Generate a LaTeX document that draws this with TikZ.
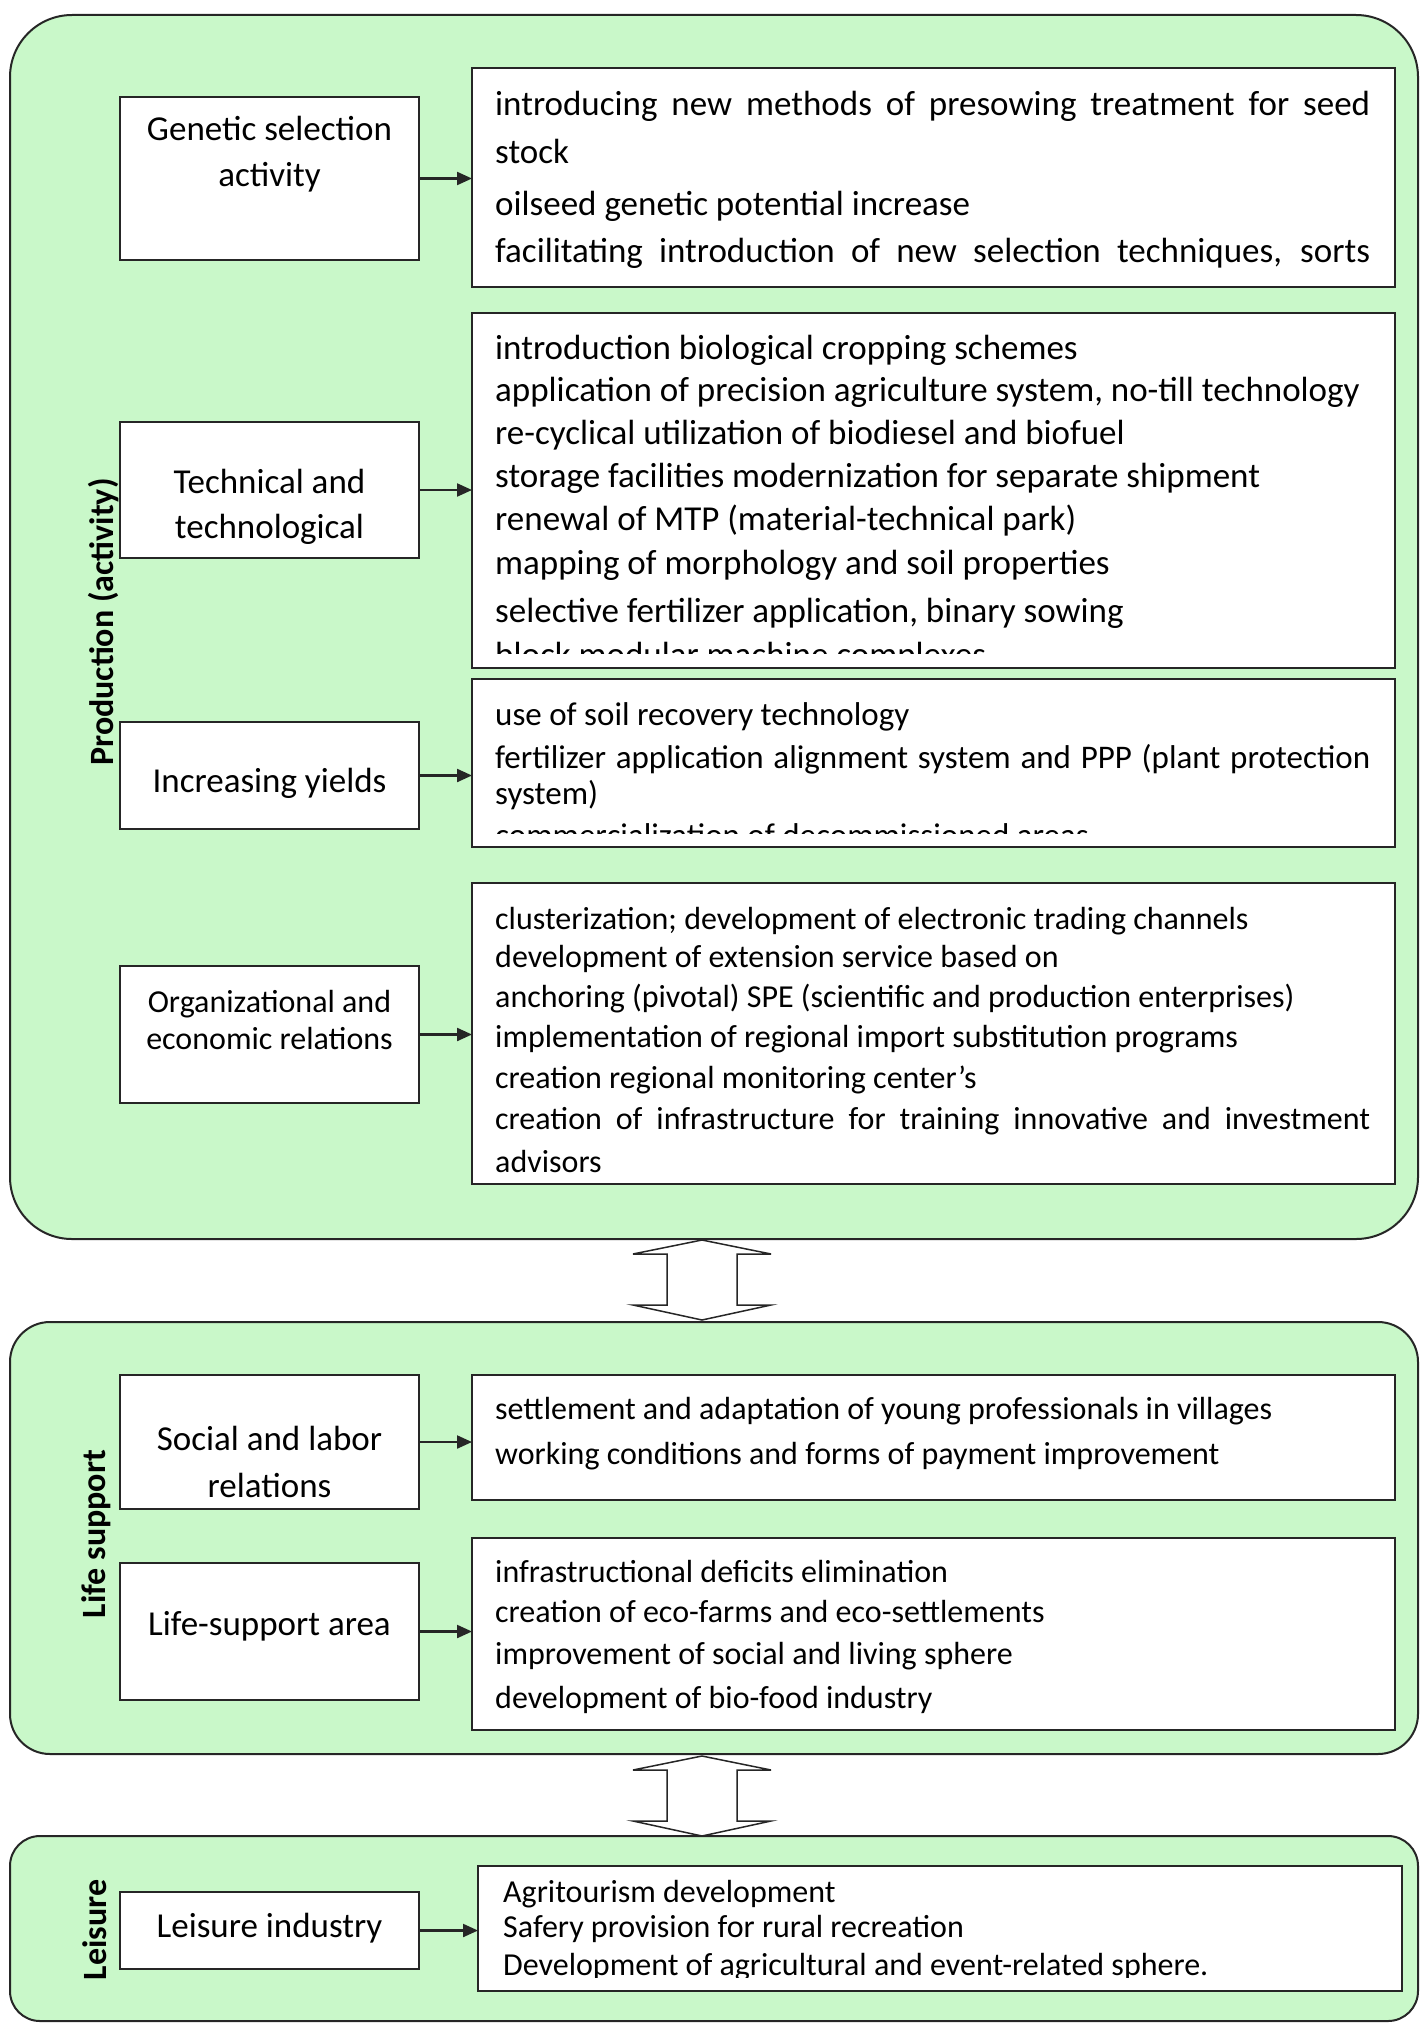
\documentclass[tikz,border=0pt]{standalone}
\usepackage{fontspec}
\setmainfont{Carlito}
\usetikzlibrary{arrows.meta}

\definecolor{panelgreen}{RGB}{201,248,201}
\definecolor{edgegray}{RGB}{38,38,38}

\tikzset{
	panel/.style={draw=edgegray, line width=2pt, fill=panelgreen, inner sep=0pt, outer sep=0pt},
	lbox/.style={draw=edgegray, line width=2.5pt, fill=white, minimum width=299pt, inner sep=0pt, outer sep=0pt},
	rbox/.style={draw=edgegray, line width=2.5pt, fill=white, minimum width=923pt, inner sep=0pt, outer sep=0pt},
	ltxt/.style={anchor=base, inner sep=0pt, font=\fontsize{#1}{#1}\selectfont},
	rtxt/.style={anchor=base west, inner sep=0pt, font=\fontsize{#1}{#1}\selectfont},
	side/.style={rotate=90, anchor=base, inner sep=0pt, font=\fontsize{34}{34}\selectfont\bfseries},
	conn/.style={draw=edgegray, line width=2.2pt, -{Triangle[length=15pt,width=13pt]}},
	dbl/.style={draw=edgegray, line width=1.5pt, fill=white}
}

\begin{document}
\begin{tikzpicture}[x=1pt,y=-1pt]
	\useasboundingbox (0,0) rectangle (1420,2023);
	% panels
	\node[panel, rounded corners=62pt, minimum width=1408pt, minimum height=1224pt] (prod) at (714,627) {};
	\node[panel, rounded corners=40pt, minimum width=1408pt, minimum height=432pt] (life) at (714,1538) {};
	\node[panel, rounded corners=30pt, minimum width=1408pt, minimum height=185pt] (leis) at (714,1928.5) {};
	\node[side] (prodlab) at (113,622) {Production (activity)};
	\node[side] (lifelab) at (105,1534) {Life support};
	\node[side] (leislab) at (106,1930) {Leisure};

	% left boxes
	\node[lbox, minimum height=163pt] (gen) at (269.5,178.5) {};
	\node[lbox, minimum height=136pt] (tec) at (269.5,490) {};
	\node[lbox, minimum height=107pt] (inc) at (269.5,775.5) {};
	\node[lbox, minimum height=137pt] (org) at (269.5,1034.5) {};
	\node[lbox, minimum height=134pt] (soc) at (269.5,1442) {};
	\node[lbox, minimum height=137pt] (lif) at (269.5,1631.5) {};
	\node[lbox, minimum height=77pt] (lei) at (269.5,1930.5) {};

	\node[ltxt=35] (gen-1) at (269.5,140) {Genetic selection};
	\node[ltxt=35] (gen-2) at (269.5,186) {activity};
	\node[ltxt=35] (tec-1) at (269.5,493) {Technical and};
	\node[ltxt=35] (tec-2) at (269.5,538) {technological};
	\node[ltxt=35] (inc-1) at (269.5,792) {Increasing yields};
	\node[ltxt=32] (org-1) at (269.5,1012) {Organizational and};
	\node[ltxt=32] (org-2) at (269.5,1049) {economic relations};
	\node[ltxt=35] (soc-1) at (269.5,1450) {Social and labor};
	\node[ltxt=35] (soc-2) at (269.5,1497) {relations};
	\node[ltxt=35] (lif-1) at (269.5,1635) {Life-support area};
	\node[ltxt=35] (lei-1) at (269.5,1937) {Leisure industry};

	% right boxes
	\node[rbox, minimum height=219pt] (genr) at (933.5,177.5) {};
	\node[rbox, minimum height=355pt] (tecr) at (933.5,490.5) {};
	\node[rbox, minimum height=168pt] (incr) at (933.5,763) {};
	\node[rbox, minimum height=301pt] (orgr) at (933.5,1033.5) {};
	\node[rbox, minimum height=125pt] (socr) at (933.5,1437.5) {};
	\node[rbox, minimum height=192pt] (lifr) at (933.5,1634) {};
	\node[rbox, minimum width=924pt, minimum height=125pt] (leir) at (940,1928.5) {};

	\foreach \bl/\words in {116/{\makebox[875pt][s]{introducing new methods of presowing treatment for seed}},
		164/{stock}, 215/{oilseed genetic potential increase},
		262/{\makebox[875pt][s]{facilitating introduction of new selection techniques, sorts}}}
		\node[rtxt=35] (genr-\bl) at (495,\bl) {\words};

	\begin{scope}
		\clip (472,313) rectangle (1395,653);
		\foreach \bl/\words in {359/{introduction biological cropping schemes},
			401/{application of precision agriculture system, no-till technology},
			444/{re-cyclical utilization of biodiesel and biofuel},
			487/{storage facilities modernization for separate shipment},
			530/{renewal of MTP (material-technical park)},
			574/{mapping of morphology and soil properties},
			622/{selective fertilizer application, binary sowing},
			666/{block modular machine complexes}}
			\node[rtxt=35] (tecr-\bl) at (495,\bl) {\words};
	\end{scope}

	\begin{scope}
		\clip (472,679) rectangle (1395,833);
		\foreach \bl/\words in {725/{use of soil recovery technology},
			768/{\makebox[875pt][s]{fertilizer application alignment system and PPP (plant protection}},
			804/{system)}, 846/{commercialization of decommissioned areas}}
			\node[rtxt=33] (incr-\bl) at (495,\bl) {\words};
	\end{scope}

	\foreach \bl/\words in {929/{clusterization; development of electronic trading channels},
		967/{development of extension service based on},
		1007/{anchoring (pivotal) SPE (scientific and production enterprises)},
		1047/{implementation of regional import substitution programs},
		1088/{creation regional monitoring center’s},
		1129/{\makebox[875pt][s]{creation of infrastructure for training innovative and investment}},
		1172/{advisors}}
		\node[rtxt=32] (orgr-\bl) at (495,\bl) {\words};

	\foreach \bl/\words in {1419/{settlement and adaptation of young professionals in villages},
		1464/{working conditions and forms of payment improvement}}
		\node[rtxt=32] (socr-\bl) at (495,\bl) {\words};

	\foreach \bl/\words in {1582/{infrastructional deficits elimination},
		1622/{creation of eco-farms and eco-settlements},
		1664/{improvement of social and living sphere},
		1708/{development of bio-food industry}}
		\node[rtxt=32] (lifr-\bl) at (495,\bl) {\words};

	\begin{scope}
		\clip (478,1866) rectangle (1402,1977);
		\foreach \bl/\words in {1902/{Agritourism development},
			1937/{Safery provision for rural recreation},
			1975/{Development of agricultural and event-related sphere.}}
			\node[rtxt=32] (leir-\bl) at (503,\bl) {\words};
	\end{scope}

	% arrows
	\draw[conn] (gen.east) -- (gen.east -| genr.west);
	\draw[conn] (tec.east) -- (tec.east -| tecr.west);
	\draw[conn] (inc.east) -- (inc.east -| incr.west);
	\draw[conn] (org.east) -- (org.east -| orgr.west);
	\draw[conn] (soc.east) -- (soc.east -| socr.west);
	\draw[conn] (lif.east) -- (lif.east -| lifr.west);
	\draw[conn] (lei.east) -- (lei.east -| leir.west);

	% double arrows between panels
	\coordinate (da1) at (702,1240);
	\coordinate (da2) at (702,1756);
	\foreach \c in {da1,da2}
		\draw[dbl] (\c) -- ++(69,14) -- ++(-34,0) -- ++(0,51) -- ++(34,0) -- ++(-69,15)
			-- ++(-69,-15) -- ++(34,0) -- ++(0,-51) -- ++(-34,0) -- cycle;
\end{tikzpicture}
\end{document}
